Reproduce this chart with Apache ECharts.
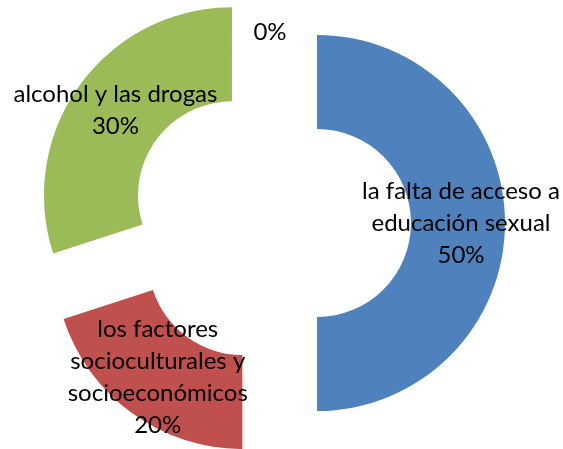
<!DOCTYPE html>
<html>
<head>
<meta charset="utf-8">
<script src="https://cdn.jsdelivr.net/npm/echarts@6/dist/echarts.min.js"></script>
<style>html,body{margin:0;padding:0;background:#fff}#c{width:563px;height:449px}</style>
</head>
<body>
<div id="c"></div>
<script>
const categories = ["la falta de acceso a\neducación sexual", "los factores\nsocioculturales y\nsocioeconómicos", "alcohol y las drogas", ""];
const values = [50, 20, 30, 0];
const colors = ["#4F81BD", "#C0504D", "#9BBB59", "#8064A2"];

const chart = echarts.init(document.getElementById('c'), null, {renderer: 'canvas'});
const data = categories.map((name, i) => {
  const item = {name: name, value: values[i], selected: true, itemStyle: {color: colors[i]}};
  if (values[i] === 0) {
    item.label = {formatter: '{d}%', lineHeight: 38, verticalAlign: 'top'};
  }
  return item;
});
chart.setOption({
  animation: false,
  backgroundColor: '#ffffff',
  series: [{
    type: 'pie',
    center: [270, 223],
    radius: [94, 188],
    startAngle: 90,
    clockwise: true,
    selectedMode: 'multiple',
    selectedOffset: 47,
    avoidLabelOverlap: false,
    minShowLabelAngle: 0,
    emphasis: {disabled: true},
    label: {
      show: true,
      position: 'inside',
      formatter: function (p) { return p.name + '\n' + p.percent + '%'; },
      color: '#000',
      fontFamily: 'Lato',
      fontSize: 24,
      lineHeight: 32,
      align: 'center'
    },
    labelLine: {show: false},
    data: data
  }]
});
</script>
</body>
</html>
